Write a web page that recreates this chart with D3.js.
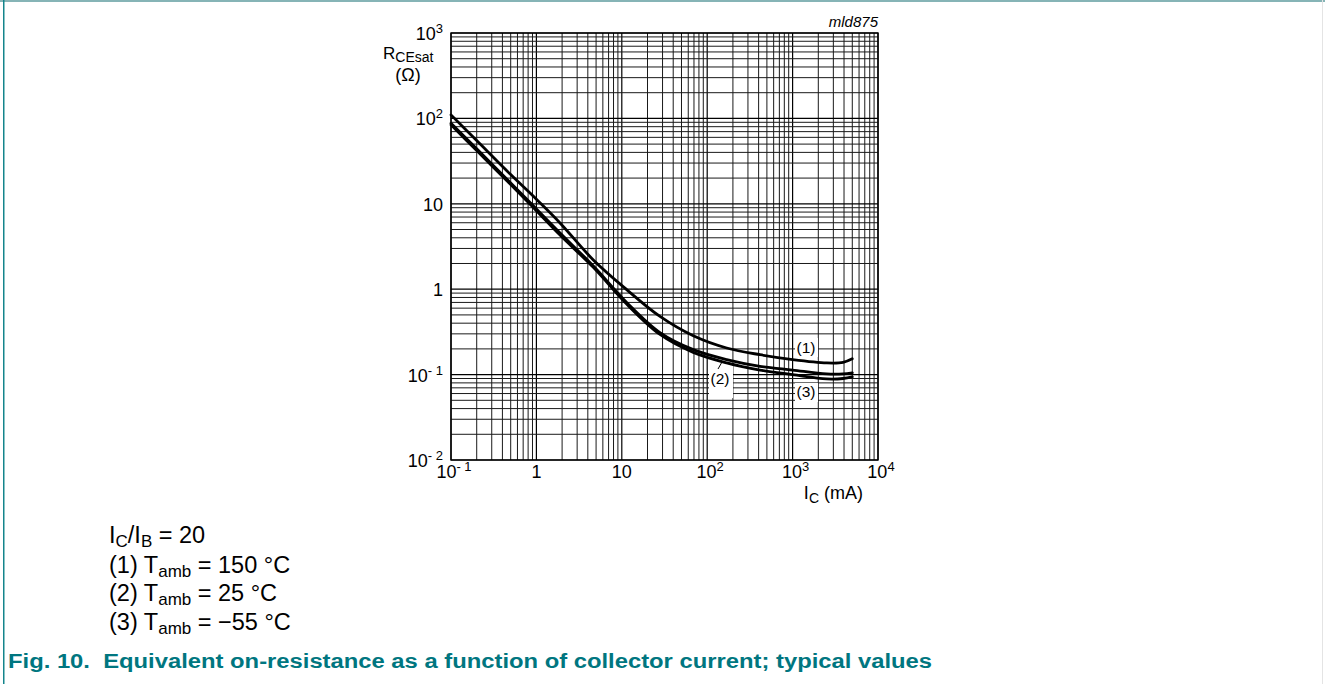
<!DOCTYPE html>
<html>
<head>
<meta charset="utf-8">
<script src="https://cdn.jsdelivr.net/npm/d3@7"></script>
<style>
  html, body { margin: 0; padding: 0; background: #fff; }
  svg { display: block; }
  text { font-family: "Liberation Sans", Arial, Helvetica, sans-serif; }
</style>
</head>
<body>
<svg id="chart" width="1325" height="684"></svg>
<script>
// ---------------- data ----------------
const currentMA = [0.1, 0.2, 0.5, 1, 1.89, 4.64, 11.4, 28, 68.7, 169, 415, 1000, 2500, 3900, 5000];
const rT150 = [110, 55, 22, 11.3, 5.97, 2.2, 0.99, 0.48, 0.285, 0.205, 0.171, 0.15, 0.137, 0.139, 0.153];
const rT25  = [88, 44, 17.5, 8.7, 4.56, 1.87, 0.70, 0.31, 0.196, 0.15, 0.125, 0.113, 0.102, 0.102, 0.105];
const rTm55 = [84, 42, 16.8, 8.3, 4.3, 1.80, 0.67, 0.295, 0.182, 0.137, 0.113, 0.100, 0.089, 0.090, 0.094];
const seriesNames = ["(1)", "(2)", "(3)"];

const xTickValues = [0.1, 1, 10, 100, 1000, 10000];
const xTickLabels = ["10^- 1", "1", "10", "10^2", "10^3", "10^4"];
const yTickValues = [0.01, 0.1, 1, 10, 100, 1000];
const yTickLabels = ["10^- 2", "10^- 1", "1", "10", "10^2", "10^3"];

const legendLines = [
  [["I", ""], ["C", "sub"], ["/I", ""], ["B", "sub"], [" = 20", ""]],
  [["(1) T", ""], ["amb", "sub"], [" = 150 °C", ""]],
  [["(2) T", ""], ["amb", "sub"], [" = 25 °C", ""]],
  [["(3) T", ""], ["amb", "sub"], [" = \u221255 °C", ""]]
];
const figTitle = "Fig. 10.\u00a0\u00a0Equivalent on-resistance as a function of collector current; typical values";
const figCode = "mld875";

// ---------------- layout ----------------
const svg = d3.select("#chart");
const L = 451, R = 878, T = 33, B = 460;
const x = d3.scaleLog().domain([0.1, 1e4]).range([L, R]);
const y = d3.scaleLog().domain([0.01, 1e3]).range([B, T]);

// page frame
svg.append("rect").attr("x", 0).attr("y", 0).attr("width", 1325).attr("height", 2).attr("fill", "#86b4b6");
svg.append("rect").attr("x", 3).attr("y", 0).attr("width", 1.5).attr("height", 684).attr("fill", "#14858c");
svg.append("rect").attr("x", 1322).attr("y", 0).attr("width", 1).attr("height", 684).attr("fill", "#e4e4e4");

// grid
const g = svg.append("g");
const isMajor = v => Math.abs(Math.log10(v) - Math.round(Math.log10(v))) < 1e-6;
g.selectAll("line.vx").data(x.ticks()).join("line")
  .attr("x1", d => x(d)).attr("x2", d => x(d)).attr("y1", T).attr("y2", B)
  .attr("stroke", d => isMajor(d) ? "#000" : "#1a1a1a").attr("stroke-width", d => isMajor(d) ? 1.2 : 1);
g.selectAll("line.hy").data(y.ticks()).join("line")
  .attr("y1", d => y(d)).attr("y2", d => y(d)).attr("x1", L).attr("x2", R)
  .attr("stroke", d => isMajor(d) ? "#000" : "#1a1a1a").attr("stroke-width", d => isMajor(d) ? 1.2 : 1);
g.append("rect").attr("x", L).attr("y", T).attr("width", R - L).attr("height", B - T)
  .attr("fill", "none").attr("stroke", "#000").attr("stroke-width", 1.4);

// label boxes (white, hide grid)
const labelBoxes = [
  {x0: 795, y0: 338, x1: 818, y1: 357},
  {x0: 709, y0: 366, x1: 733, y1: 398},
  {x0: 795, y0: 383, x1: 818, y1: 402}
];
svg.selectAll("rect.lb").data(labelBoxes).join("rect")
  .attr("x", d => d.x0).attr("y", d => d.y0).attr("width", d => d.x1 - d.x0).attr("height", d => d.y1 - d.y0)
  .attr("fill", "#fff");

// curves
const line = d3.line().x(d => x(d[0])).y(d => y(d[1])).curve(d3.curveCatmullRom.alpha(0.5));
[rT150, rT25, rTm55].forEach(s => {
  svg.append("path").datum(currentMA.map((c, i) => [c, s[i]]))
    .attr("d", line).attr("fill", "none").attr("stroke", "#000").attr("stroke-width", 2.8)
    .attr("stroke-linecap", "round");
});

// curve labels
const labelPos = [[806, 353], [720, 384], [806, 397]];
svg.selectAll("text.cl").data(seriesNames).join("text")
  .attr("x", (d, i) => labelPos[i][0]).attr("y", (d, i) => labelPos[i][1])
  .attr("text-anchor", "middle").attr("font-size", 15.5).text(d => d);
svg.append("line").attr("x1", 718).attr("y1", 369).attr("x2", 722).attr("y2", 362)
  .attr("stroke", "#000").attr("stroke-width", 1);

// tick labels
function powLabel(sel, lab) {
  const parts = lab.split("^");
  sel.append("tspan").text(parts[0]);
  if (parts.length > 1) {
    sel.append("tspan").attr("font-size", 13).attr("dy", -7).text(parts[1]);
  }
}
xTickValues.forEach((v, i) => {
  const t = svg.append("text").attr("x", x(v) + (xTickLabels[i].includes("^") ? 3 : 0)).attr("y", B + 18)
    .attr("text-anchor", "middle").attr("font-size", 18);
  powLabel(t, xTickLabels[i]);
});
yTickValues.forEach((v, i) => {
  const t = svg.append("text").attr("x", 443).attr("y", y(v) + 7)
    .attr("text-anchor", "end").attr("font-size", 18);
  powLabel(t, yTickLabels[i]);
});

// axis titles
const yt = svg.append("text").attr("x", 383).attr("y", 59).attr("font-size", 17);
yt.append("tspan").text("R");
yt.append("tspan").attr("font-size", 14).attr("dy", 3).text("CEsat");
svg.append("text").attr("x", 408).attr("y", 81).attr("text-anchor", "middle").attr("font-size", 18).text("(\u03a9)");

const xt = svg.append("text").attr("x", 863).attr("y", 499).attr("text-anchor", "end").attr("font-size", 18);
xt.append("tspan").text("I");
xt.append("tspan").attr("font-size", 14).attr("dy", 4).text("C");
xt.append("tspan").attr("dy", -4).text(" (mA)");

svg.append("text").attr("x", 878).attr("y", 27).attr("text-anchor", "end")
  .attr("font-size", 15).attr("font-style", "italic").text(figCode);

// legend text
const legendBase = [543, 572.5, 601, 629.5];
legendLines.forEach((parts, i) => {
  const t = svg.append("text").attr("x", 109).attr("y", legendBase[i]).attr("font-size", 23.5);
  let down = false;
  parts.forEach(([s, kind]) => {
    const sp = t.append("tspan").text(s);
    if (kind === "sub") { sp.attr("font-size", 17).attr("dy", 4); down = true; }
    else if (down) { sp.attr("dy", -4); down = false; }
  });
});

// figure title
svg.append("text").attr("x", 8).attr("y", 668).attr("font-size", 20).attr("font-weight", "bold")
  .attr("fill", "#007680").attr("textLength", 924).attr("lengthAdjust", "spacingAndGlyphs").text(figTitle);
</script>
</body>
</html>
